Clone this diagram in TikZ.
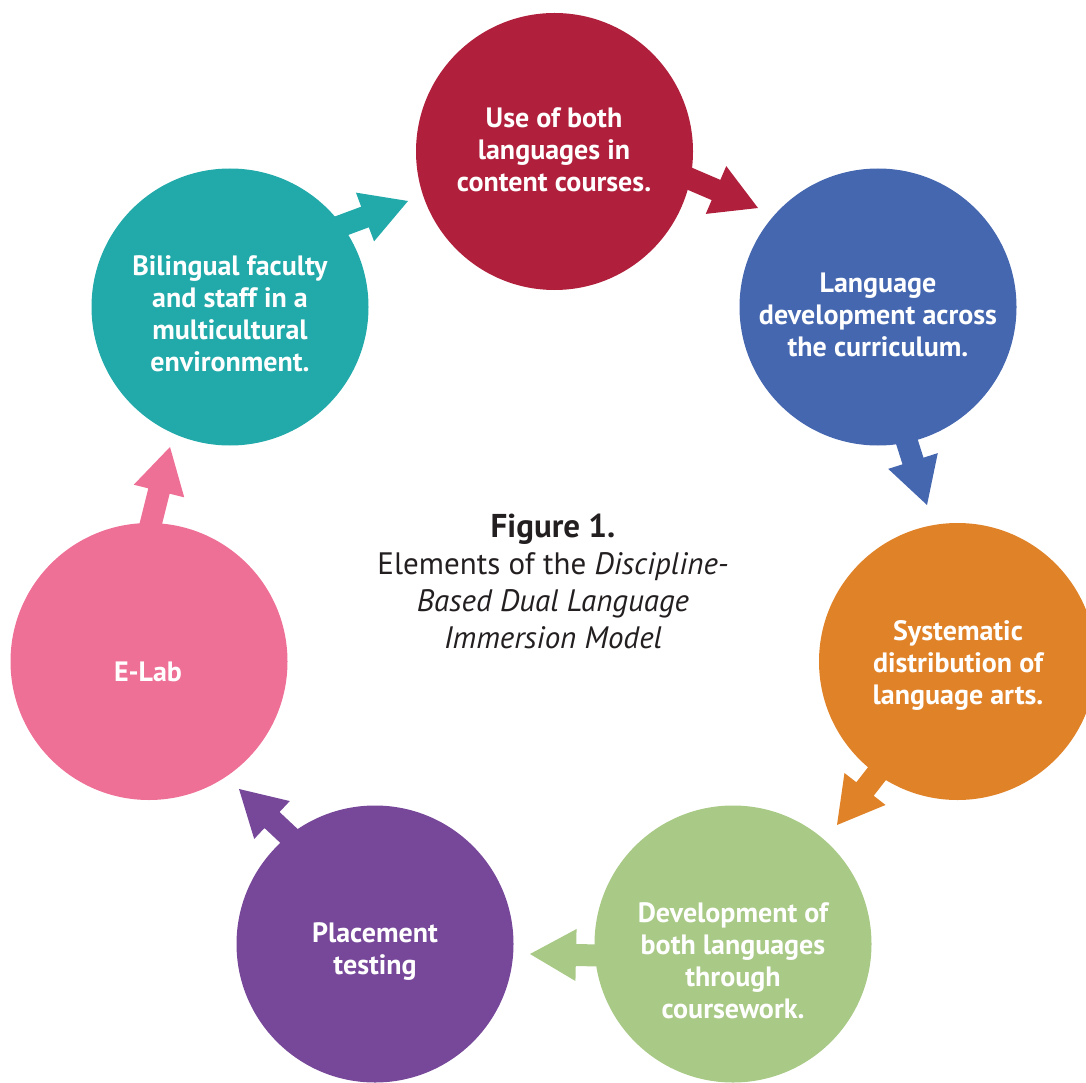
\documentclass[tikz,border=0pt]{standalone}
\usepackage{fontspec}
\setmainfont{PT Sans}
\usetikzlibrary{calc}
\definecolor{cred}{HTML}{B01F3B}
\definecolor{cblue}{HTML}{4467B0}
\definecolor{corange}{HTML}{E08228}
\definecolor{cgreen}{HTML}{A9C986}
\definecolor{cpurple}{HTML}{77489A}
\definecolor{cpink}{HTML}{EE7096}
\definecolor{cteal}{HTML}{22A9A9}
\definecolor{ctext}{HTML}{231F20}
\newcommand\fatarrow[3]{%
  \coordinate (fa-t) at ($(#1)!-1.3!(#2)$);
  \fill[#3] ($(fa-t)!11pt!90:(#2)$) -- ($(#1)!11pt!90:(#2)$) -- ($(#1)!26pt!90:(#2)$) -- (#2)
    -- ($(#1)!26pt!-90:(#2)$) -- ($(#1)!11pt!-90:(#2)$) -- ($(fa-t)!11pt!-90:(#2)$) -- cycle;}
\tikzset{
  bub/.style={circle, minimum size=277pt, inner sep=0pt, draw=none},
  btxt/.style={text=white, align=center, font=\bfseries\fontsize{28}{32}\selectfont, inner sep=0pt},
  captxt/.style={text=ctext, align=center, font=\fontsize{31}{37}\selectfont, inner sep=0pt}
}
\begin{document}
\begin{tikzpicture}[x=1pt,y=-1pt]
\useasboundingbox (0,0) rectangle (1086,1083);
\clip (0,0) rectangle (1086,1083);
% arrow tips and bases
\coordinate (a1b) at (716,190); \coordinate (a1t) at (758,208);
\coordinate (a2b) at (913,461); \coordinate (a2t) at (927,505);
\coordinate (a3b) at (865,789); \coordinate (a3t) at (837,825);
\coordinate (a4b) at (576,955); \coordinate (a4t) at (530,954);
\coordinate (a5b) at (272,820); \coordinate (a5t) at (239,789);
\coordinate (a6b) at (159,491); \coordinate (a6t) at (170,447);
\coordinate (a7b) at (365,217); \coordinate (a7t) at (408,201);
\fatarrow{a1b}{a1t}{cred}
\fatarrow{a2b}{a2t}{cblue}
\fatarrow{a3b}{a3t}{corange}
\fatarrow{a4b}{a4t}{cgreen}
\fatarrow{a5b}{a5t}{cpurple}
\fatarrow{a6b}{a6t}{cpink}
\fatarrow{a7b}{a7t}{cteal}
% circles
\node[bub, fill=cred] (use) at (554.5,151.5) {};
\node[bub, fill=cblue] (lang) at (878,307) {};
\node[bub, fill=corange] (sys) at (957.5,661.5) {};
\node[bub, fill=cgreen] (dev) at (733,944) {};
\node[bub, fill=cpurple] (place) at (375,944) {};
\node[bub, fill=cpink] (elab) at (149,661.5) {};
\node[bub, fill=cteal] (bil) at (230,307) {};
% texts
\node[btxt] (use-t) at (554,150) {Use of both\\languages in\\content courses.};
\node[btxt] (lang-t) at (878,314.5) {Language\\development across\\the curriculum.};
\node[btxt] (sys-t) at (958,665.5) {Systematic\\distribution of\\language arts.};
\node[btxt] (dev-t) at (733,961) {Development of\\both languages\\through\\coursework.};
\node[btxt] (place-t) at (375,951.5) {Placement\\testing};
\node[btxt] (elab-t) at (148,671.5) {E-Lab};
\node[btxt] (bil-t) at (230,314) {Bilingual faculty\\and staff in a\\multicultural\\environment.};
\node[captxt] (cap) at (553,581.5) {{\bfseries\fontsize{33}{37}\selectfont Figure 1.}\\Elements of the \textit{Discipline-}\\\textit{Based Dual Language}\\\textit{Immersion Model}};
\end{tikzpicture}
\end{document}
